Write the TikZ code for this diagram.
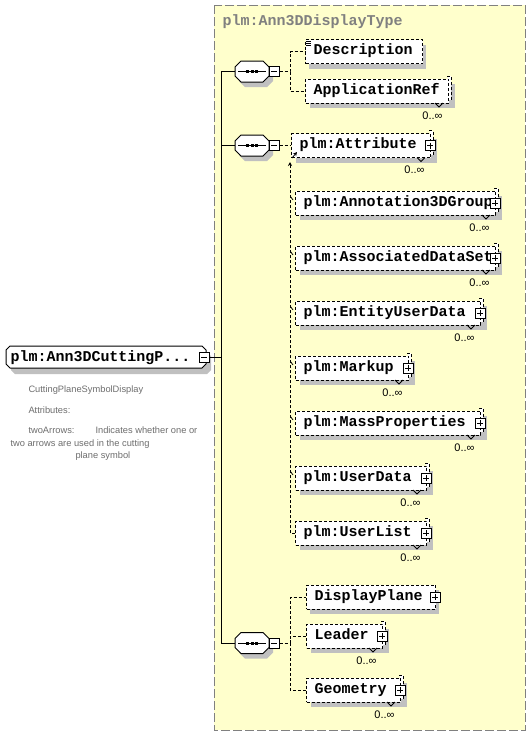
\documentclass[tikz,border=0pt]{standalone}
\usepackage{fontspec}
\setmainfont{Liberation Sans}
\newfontfamily\xmono{Liberation Mono}
\usetikzlibrary{arrows.meta}
\definecolor{ybg}{RGB}{255,255,204}
\definecolor{shc}{RGB}{192,192,192}
\definecolor{bord}{RGB}{128,128,128}
\definecolor{annc}{RGB}{110,110,110}
\tikzset{
 etxt/.style={font=\xmono\bfseries\fontsize{15}{15}\selectfont, inner sep=0, anchor=base west},
 card/.style={font=\fontsize{11}{11}\selectfont, inner sep=0, anchor=north east},
 anno/.style={font=\fontsize{9.3}{9.3}\selectfont, text=annc, inner sep=0, anchor=base west},
 edash/.style={dash pattern=on 3pt off 2pt},
 cdash/.style={dash pattern=on 3pt off 2pt},
 sbox/.style={draw, solid, fill=white, minimum size=10pt, inner sep=0},
 frontbox/.style={draw, fill=white, edash, inner sep=0, minimum height=24pt, anchor=west},
 tip/.style={-{Stealth[length=4pt,width=4pt]}},
}
% #1 name, #2 left, #3 yc, #4 right, #5 text, #6 multi, #7 plus
\newcommand\xsElem[7]{%
  \ifnum#6=1
    \fill[shc] (#2+5,#3-7) rectangle (#4+7,#3+17);
    \fill[white] (#4,#3-15) rectangle (#4+3,#3+9);
    \draw[edash] (#4-1,#3-15) -- (#4+3,#3-15) -- (#4+3,#3+9);
  \else
    \fill[shc] (#2+4,#3-7) rectangle (#4+4,#3+17);
  \fi
  \node[frontbox, minimum width={#4-#2}] (#1) at (#2,#3) {};
  \node[etxt] (#1t) at (#2+8,#3+3) {#5};
  \ifnum#7=1
    \node[sbox] (#1p) at (#4,#3) {};
    \draw (#4-3,#3) -- (#4+3,#3) (#4,#3-3) -- (#4,#3+3);
  \fi
  \ifnum#6=1
    \draw (#4-13,#3+12) -- (#4-9,#3+16) -- (#4-5,#3+12);
    \node[card] (#1c) at (#4-5,#3+20) {0..∞};
  \fi
}
% #1 name, #2 cx, #3 cy
\newcommand\xsSeq[3]{%
  \fill[shc] (#2-13,#3+0.5) -- (#2-7,#3-5.5) -- (#2+15,#3-5.5) -- (#2+21,#3+0.5) -- (#2+21,#3+9.5) -- (#2+15,#3+15.5) -- (#2-7,#3+15.5) -- (#2-13,#3+9.5) -- cycle;
  \draw[fill=white] (#2-17,#3-4.5) -- (#2-11,#3-10.5) -- (#2+11,#3-10.5) -- (#2+17,#3-4.5) -- (#2+17,#3+4.5) -- (#2+11,#3+10.5) -- (#2-11,#3+10.5) -- (#2-17,#3+4.5) -- cycle;
  \node[inner sep=0, minimum width=34pt, minimum height=21pt] (#1) at (#2,#3) {};
  \draw (#2-14,#3) -- (#2+14,#3);
  \fill (#2-6,#3-1.5) rectangle (#2-3,#3+1.5);
  \fill (#2-1.5,#3-1.5) rectangle (#2+1.5,#3+1.5);
  \fill (#2+3,#3-1.5) rectangle (#2+6,#3+1.5);
  \node[sbox] (#1m) at (#2+22,#3) {};
  \draw (#2+19,#3) -- (#2+25,#3);
}
\begin{document}
\begin{tikzpicture}[x=1pt,y=-1pt,line width=1pt]
\useasboundingbox (0,0) rectangle (530,737);
\fill[white] (0,0) rectangle (530,737);
% container
\draw[bord, dash pattern=on 9pt off 3pt, fill=ybg] (214,5) rectangle (525,730);
\node[etxt, text=bord] (title) at (222,25) {plm:Ann3DDisplayType};
% root element
\fill[shc] (11,356) -- (15,352) -- (207,352) -- (211,356) -- (211,370) -- (207,374) -- (15,374) -- (11,370) -- cycle;
\draw[fill=white] (6,350) -- (10,346) -- (202,346) -- (206,350) -- (206,364) -- (202,368) -- (10,368) -- (6,364) -- cycle;
\node[inner sep=0, minimum width=200pt, minimum height=22pt] (root) at (106,357) {};
\node[etxt] (roott) at (10,361) {plm:Ann3DCuttingP...};
\node[sbox] (rootm) at (204,357) {};
\draw (201,357) -- (207,357);
% annotation
\node[anno] (an1) at (28,392) {CuttingPlaneSymbolDisplay};
\node[anno] (an2) at (28,413) {Attributes:};
\node[anno] (an3) at (28,433) {twoArrows:};
\node[anno] (an4) at (95,433) {Indicates whether one or};
\node[anno] (an5) at (10,446) {two arrows are used in the cutting};
\node[anno] (an6) at (75,458) {plane symbol};
% sequences
\xsSeq{seqa}{252}{71.5}
\xsSeq{seqb}{252}{145.5}
\xsSeq{seqc}{252}{643}
% trunk
\coordinate (trunk) at (221,357);
\draw (rootm.east) -- (trunk);
\draw (seqa.west) -| (trunk);
\draw (seqb.west) -| (trunk);
\draw (seqc.west) -| (trunk);
% elements
\xsElem{desc}{305}{51.5}{422}{Description}{0}{0}
\draw (306,41) -- (311,41) (306,43) -- (311,43) (306,45) -- (311,45);
\xsElem{appref}{305}{91}{448}{ApplicationRef}{1}{0}
\xsElem{attr}{291}{145.5}{430}{plm:Attribute}{1}{1}
\xsElem{ann}{295}{203}{495}{plm:Annotation3DGroup}{1}{1}
\xsElem{ads}{295}{258}{495}{plm:AssociatedDataSet}{1}{1}
\xsElem{eud}{295}{313}{480}{plm:EntityUserData}{1}{1}
\xsElem{mkp}{295}{368}{408}{plm:Markup}{1}{1}
\xsElem{mass}{295}{423}{480}{plm:MassProperties}{1}{1}
\xsElem{udat}{295}{478}{426}{plm:UserData}{1}{1}
\xsElem{ulist}{295}{533}{426}{plm:UserList}{1}{1}
\xsElem{dplane}{306}{597}{435}{DisplayPlane}{0}{1}
\xsElem{leader}{306}{636}{382}{Leader}{1}{1}
\xsElem{geom}{306}{690}{400}{Geometry}{1}{1}
% sequence 1 connectors
\coordinate (ja) at (290,71.5);
\draw[cdash] (seqam.east) -- (ja) |- (desc.west);
\draw[cdash] (ja) |- (appref.west);
% sequence 2 connectors
\coordinate (jbtop) at (290,162);
\draw[cdash] (seqbm.east) -- (attr.west);
\draw[cdash, tip] (ulist.west) -| (jbtop);
\coordinate (aa) at (292,158);
\coordinate (ab) at (297,152);
\draw[tip, line width=0.8pt] (aa) -- (ab);
\foreach \n in {ann,ads,eud,mkp,mass,udat}{
  \draw[line width=0.8pt] ([shift={(-4.5,-6.5)}]\n.west) -- ([shift={(-2,-3)}]\n.west);
}
% sequence 3 connectors
\coordinate (jc) at (290,643);
\draw[cdash] (seqcm.east) -- (jc) |- (dplane.west);
\draw[cdash] (jc) |- (leader.west);
\draw[cdash] (jc) |- (geom.west);
\end{tikzpicture}
\end{document}
